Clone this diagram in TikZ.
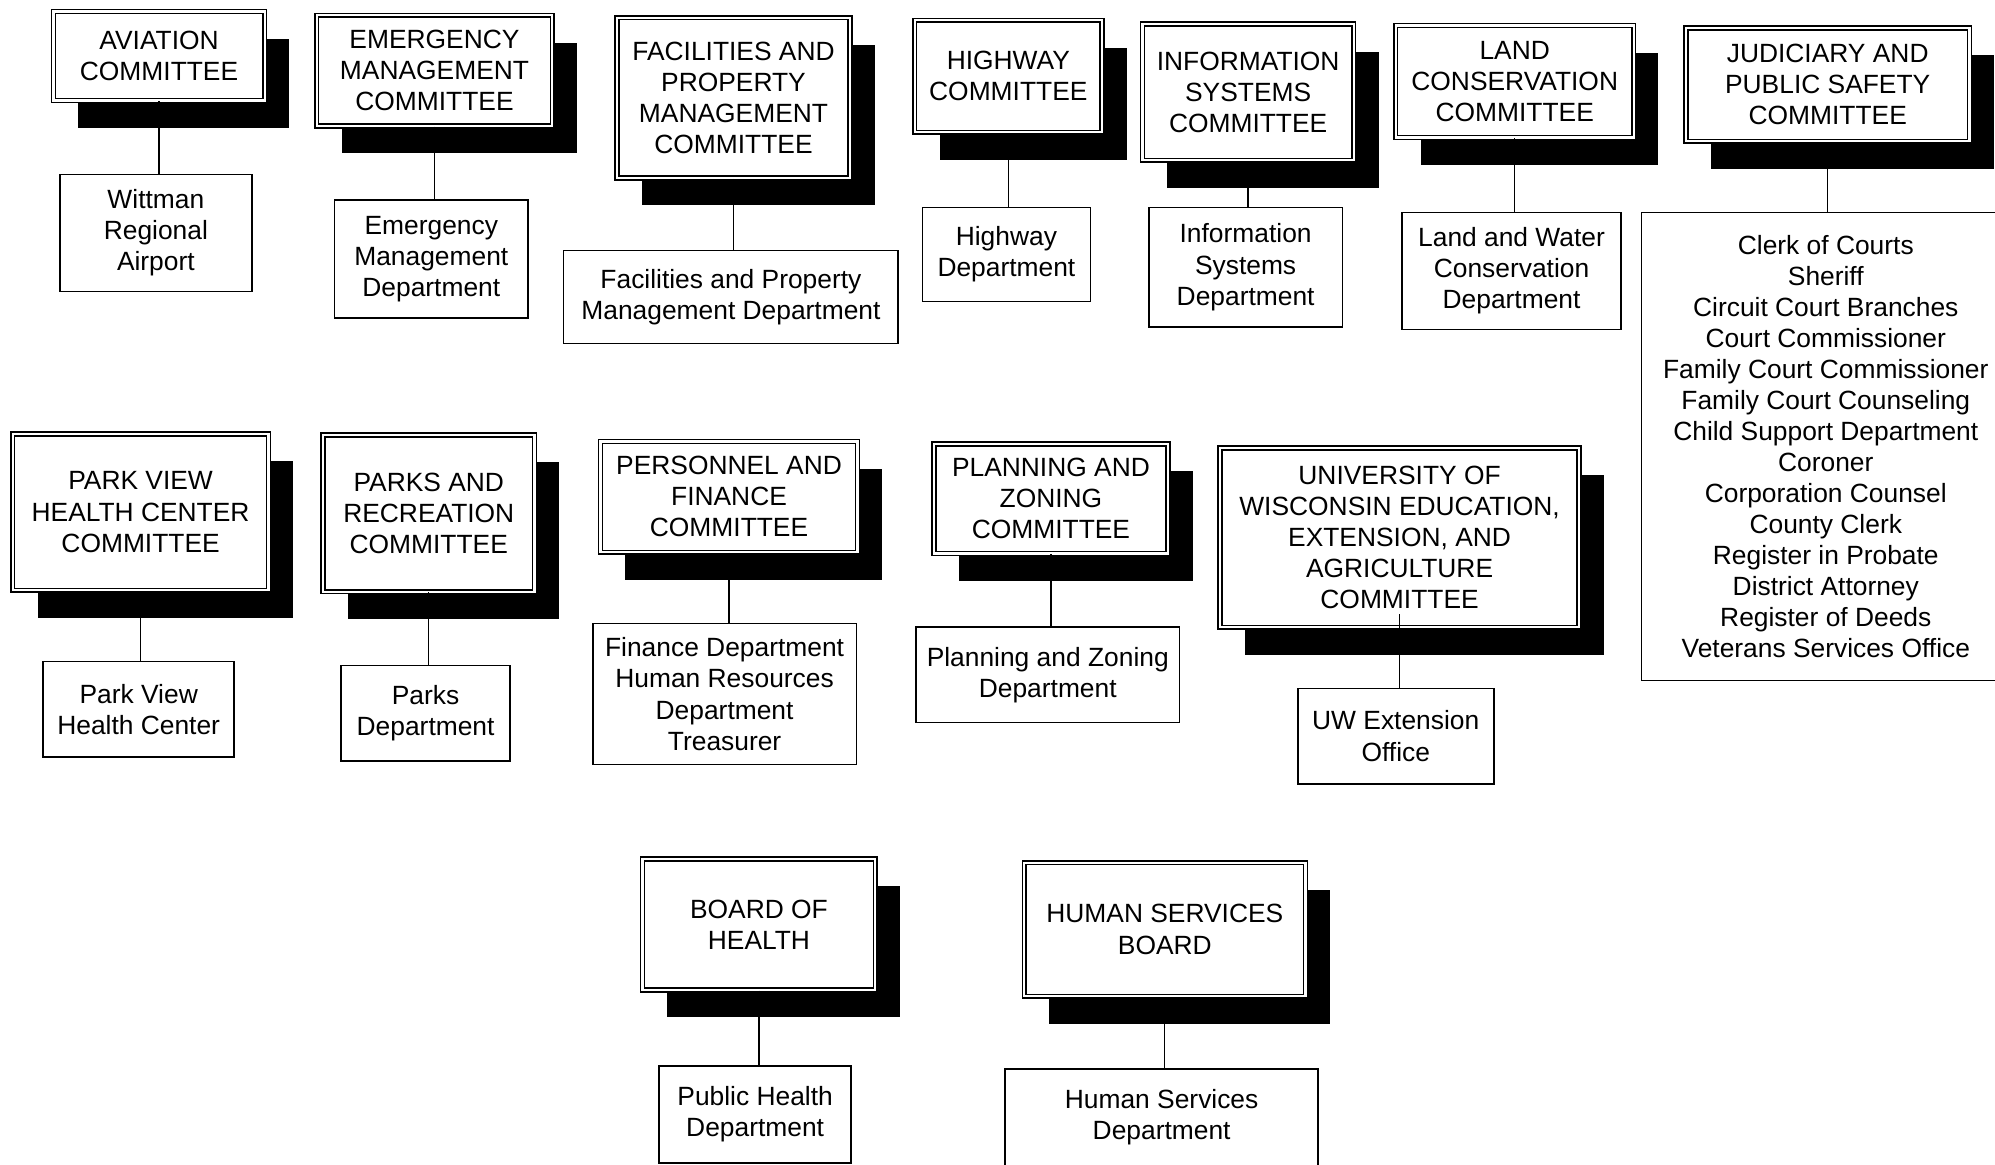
\documentclass[tikz,border=0pt]{standalone}
\usepackage{fontspec}
\setmainfont{Liberation Sans}
\usetikzlibrary{shadows}

\tikzset{
  committee/.style 2 args={draw,fill=white,line width=0.7pt,double,double distance=1pt,inner sep=1pt,
    minimum width=(#1-4)*0.02cm,minimum height=(#2-4)*0.02cm,
    drop shadow={shadow xshift=0.39cm,shadow yshift=-0.43cm,fill=black,opacity=1}},
  dept/.style 2 args={draw,fill=white,line width=0.7pt,inner sep=1pt,minimum width=#1*0.02cm,minimum height=#2*0.02cm},
  link/.style={line width=0.6pt}
}

\begin{document}
\begin{tikzpicture}[x=0.02cm,y=-0.02cm,
  every node/.style={align=center,font=\fontsize{11.8}{13.9}\selectfont}
]
\useasboundingbox (0,0) rectangle (1568,915);

% first row
\node[committee={170}{74}] (aviation) at (125,44) {AVIATION\\COMMITTEE};
\node[committee={189}{91}] (emergency) at (341.5,55.5) {EMERGENCY\\MANAGEMENT\\COMMITTEE};
\node[committee={187}{130}] (facilities) at (576.5,77) {FACILITIES AND\\PROPERTY\\MANAGEMENT\\COMMITTEE};
\node[committee={151}{92}] (highway) at (792.5,60) {HIGHWAY\\COMMITTEE};
\node[committee={170}{111}] (infosys) at (981,72.5) {INFORMATION\\SYSTEMS\\COMMITTEE};
\node[committee={191}{92}] (landcons) at (1190.5,64) {LAND\\CONSERVATION\\COMMITTEE};
\node[committee={227}{93}] (judiciary) at (1436.5,66.5) {JUDICIARY AND\\PUBLIC SAFETY\\COMMITTEE};

\node[dept={151}{92}] (airport) at (122.5,183) {Wittman\\Regional\\Airport};
\node[dept={152}{93}] (emdept) at (339,203.5) {Emergency\\Management\\Department};
\node[dept={263}{73}] (facdept) at (574.5,233.5) {Facilities and Property\\Management Department};
\node[dept={132}{74}] (hwydept) at (791,200) {Highway\\Department};
\node[dept={152}{94}] (infodept) at (979,210) {Information\\Systems\\Department};
\node[dept={172}{92}] (landdept) at (1188,213) {Land and Water\\Conservation\\Department};
\node[dept={290}{368}] (courts) at (1435,351) {Clerk of Courts\\Sheriff\\Circuit Court Branches\\Court Commissioner\\Family Court Commissioner\\Family Court Counseling\\Child Support Department\\Coroner\\Corporation Counsel\\County Clerk\\Register in Probate\\District Attorney\\Register of Deeds\\Veterans Services Office};

% second row
\node[committee={205}{127}] (parkview) at (110.5,402.5) {PARK VIEW\\HEALTH CENTER\\COMMITTEE};
\node[committee={170}{127}] (parks) at (337,403.5) {PARKS AND\\RECREATION\\COMMITTEE};
\node[committee={206}{91}] (personnel) at (573,390.5) {PERSONNEL AND\\FINANCE\\COMMITTEE};
\node[committee={188}{90}] (planning) at (826,392) {PLANNING AND\\ZONING\\COMMITTEE};
\node[committee={286}{145}] (uwcomm) at (1100,422.5) {UNIVERSITY OF\\WISCONSIN EDUCATION,\\EXTENSION, AND\\AGRICULTURE\\COMMITTEE};

\node[dept={150}{75}] (pvcenter) at (109,557.5) {Park View\\Health Center};
\node[dept={133}{75}] (parksdept) at (334.5,560.5) {Parks\\Department};
\node[dept={207}{111}] (findept) at (569.5,545.5) {Finance Department\\Human Resources\\Department\\Treasurer};
\node[dept={207}{75}] (plandept) at (823.5,530.5) {Planning and Zoning\\Department};
\node[dept={154}{75}] (uwoffice) at (1097,578.5) {UW Extension\\Office};

% boards
\node[committee={187}{107}] (boardhealth) at (596.5,726.5) {BOARD OF\\HEALTH};
\node[committee={225}{109}] (humanboard) at (915.5,730.5) {HUMAN SERVICES\\BOARD};

\node[dept={151}{76}] (phdept) at (593.5,876) {Public Health\\Department};
\node[dept={246}{76}] (hsdept) at (913,878) {Human Services\\Department};

% links from each committee down to its offices
\foreach \c/\d in {aviation/airport,emergency/emdept,facilities/facdept,highway/hwydept,
  infosys/infodept,landcons/landdept,judiciary/courts,parkview/pvcenter,parks/parksdept,
  personnel/findept,planning/plandept,boardhealth/phdept,humanboard/hsdept}
  \draw[link] (\c.south) -- (\c.south |- \d.north);
\draw[link] ([yshift=0.22cm]uwcomm.south) -- (uwcomm.south |- uwoffice.north);
\end{tikzpicture}
\end{document}
